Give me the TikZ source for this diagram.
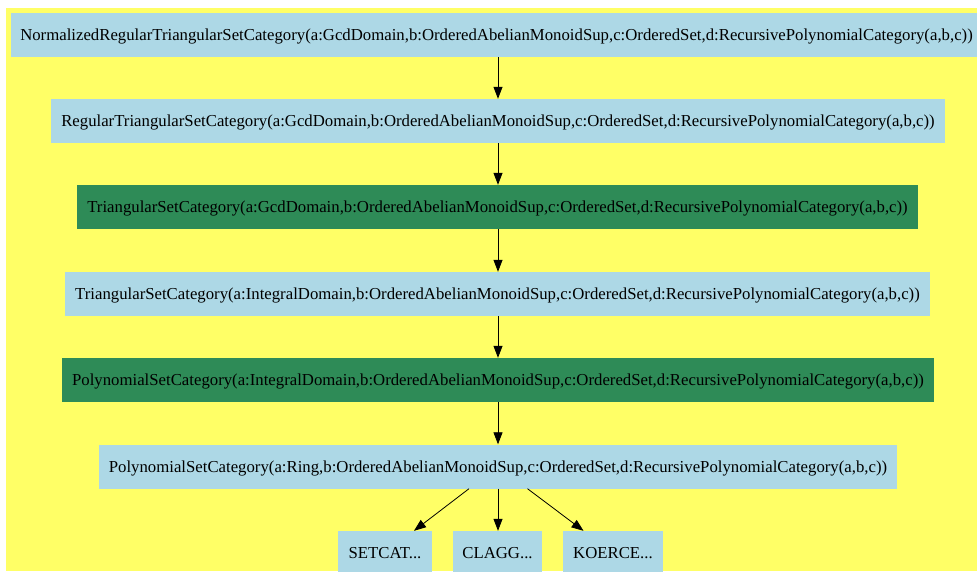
\documentclass[tikz,border=0pt]{standalone}
\usepackage{fontspec}
\setmainfont{Liberation Serif}
\usetikzlibrary{arrows.meta}
\definecolor{bgyellow}{HTML}{FFFF66}
\definecolor{lblue}{HTML}{ADD8E6}
\definecolor{sgreen}{HTML}{2E8B57}
\tikzset{
  catbox/.style={fill=lblue, draw=none, inner sep=0pt, minimum height=44pt, text height=11.1pt, text depth=0pt, font=\fontsize{16.75}{20}\selectfont, text=black},
  greenbox/.style={catbox, fill=sgreen},
  edge/.style={draw=black, line width=0.8pt, -{Triangle[length=12pt,width=9pt]}}
}
\begin{document}
\begin{tikzpicture}[x=1pt,y=-1pt]
\useasboundingbox (0,0) rectangle (977,571);
\begin{scope}
\clip (0,0) rectangle (977,571);
\fill[bgyellow] (6,8) rectangle (977,571);
\node[catbox, minimum width=971pt] (n1) at (496.5,35) {NormalizedRegularTriangularSetCategory(a:GcdDomain,b:OrderedAbelianMonoidSup,c:OrderedSet,d:RecursivePolynomialCategory(a,b,c))};
\node[catbox, minimum width=894pt] (n2) at (498,121) {RegularTriangularSetCategory(a:GcdDomain,b:OrderedAbelianMonoidSup,c:OrderedSet,d:RecursivePolynomialCategory(a,b,c))};
\node[greenbox, minimum width=841pt] (n3) at (497.5,207) {TriangularSetCategory(a:GcdDomain,b:OrderedAbelianMonoidSup,c:OrderedSet,d:RecursivePolynomialCategory(a,b,c))};
\node[catbox, minimum width=865pt] (n4) at (497.5,294) {TriangularSetCategory(a:IntegralDomain,b:OrderedAbelianMonoidSup,c:OrderedSet,d:RecursivePolynomialCategory(a,b,c))};
\node[greenbox, minimum width=872pt] (n5) at (498,380) {PolynomialSetCategory(a:IntegralDomain,b:OrderedAbelianMonoidSup,c:OrderedSet,d:RecursivePolynomialCategory(a,b,c))};
\node[catbox, minimum width=798pt] (n6) at (498,466.5) {PolynomialSetCategory(a:Ring,b:OrderedAbelianMonoidSup,c:OrderedSet,d:RecursivePolynomialCategory(a,b,c))};
\node[catbox, minimum width=94pt] (s1) at (385,553) {SETCAT...};
\node[catbox, minimum width=89pt] (s2) at (497.5,553) {CLAGG...};
\node[catbox, minimum width=100pt] (s3) at (613,553) {KOERCE...};
\draw[edge] (n1.south -| 498,0) -- (n2.north -| 498,0);
\draw[edge] (n2.south -| 498,0) -- (n3.north -| 498,0);
\draw[edge] (n3.south -| 498,0) -- (n4.north -| 498,0);
\draw[edge] (n4.south -| 498,0) -- (n5.north -| 498,0);
\draw[edge] (n5.south -| 498,0) -- (n6.north -| 498,0);
\draw[edge] (n6) -- (s1);
\draw[edge] (n6.south -| 498,0) -- (s2.north -| 498,0);
\draw[edge] (n6) -- (s3);
\end{scope}
\end{tikzpicture}
\end{document}
